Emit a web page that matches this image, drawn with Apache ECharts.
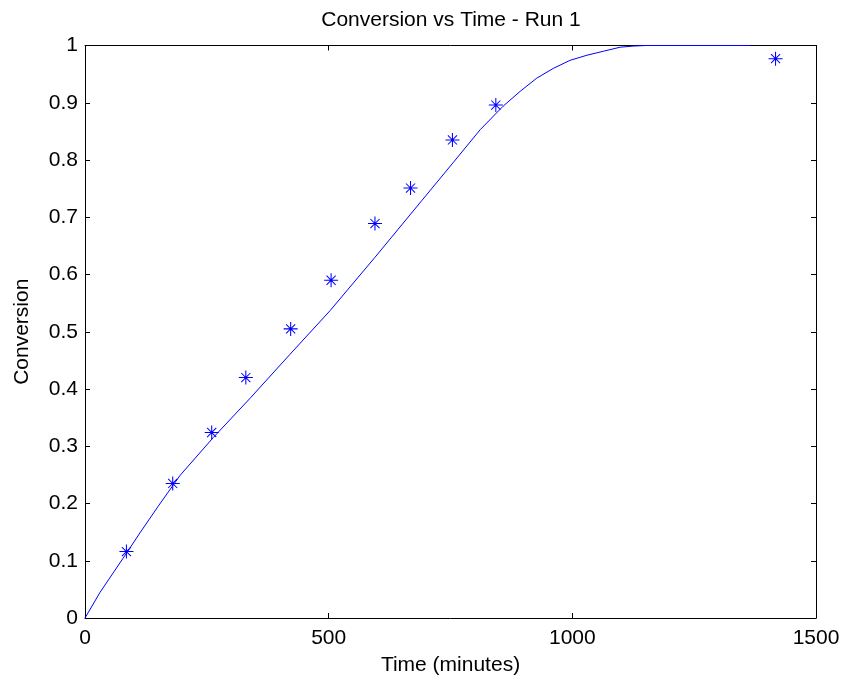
<!DOCTYPE html>
<html>
<head>
<meta charset="utf-8">
<script src="https://cdn.jsdelivr.net/npm/echarts@6/dist/echarts.min.js"></script>
<style>
html,body{margin:0;padding:0;background:#fff;}
#chart{width:844px;height:681px;}
</style>
</head>
<body>
<div id="chart"></div>
<script>
var titleText = "Conversion vs Time - Run 1";
var xLabel = "Time (minutes)";
var yLabel = "Conversion";

// Measured data points (time in minutes, conversion)
var measTime = [85, 180, 260, 330, 422, 505, 595, 668, 754, 843, 1417];
var measConv = [0.116, 0.235, 0.324, 0.42, 0.505, 0.59, 0.689, 0.751, 0.835, 0.896, 0.977];

// Model curve
var modelTime = [0, 31, 85, 113, 150, 195, 263, 340, 420, 503, 595, 691, 756, 811, 858, 893, 927, 961, 995, 1030, 1064, 1098, 1125, 1150, 1365];
var modelConv = [0, 0.045, 0.113, 0.149, 0.195, 0.249, 0.315, 0.385, 0.46, 0.537, 0.63, 0.729, 0.796, 0.853, 0.894, 0.92, 0.943, 0.96, 0.974, 0.983, 0.99, 0.997, 0.999, 1, 1];

var xTicks = [0, 500, 1000, 1500];
var yTicks = [0, 0.1, 0.2, 0.3, 0.4, 0.5, 0.6, 0.7, 0.8, 0.9, 1];

var FONT = "Liberation Sans, Arial, sans-serif";
var FS = 21;

var star = 'path://M0 7.4H16V8.6H0Z M7.4 0H8.6V16H7.4Z M2.4 3.2L3.2 2.4L13.6 12.8L12.8 13.6Z M12.8 2.4L13.6 3.2L3.2 13.6L2.4 12.8Z';

var chart = echarts.init(document.getElementById('chart'), null, {renderer: 'canvas'});

function pairs(a, b) { return a.map(function (v, i) { return [v, b[i]]; }); }

var axisCommon = {
  axisLine: {show: true, onZero: false, lineStyle: {color: '#000', width: 1}},
  axisTick: {show: true, inside: true, length: 5, lineStyle: {color: '#000'}},
  splitLine: {show: false}
};

chart.setOption({
  animation: false,
  backgroundColor: '#fff',
  title: {
    text: titleText,
    left: 446,
    top: 5,
    textAlign: 'center',
    textStyle: {fontFamily: FONT, fontSize: FS, fontWeight: 'normal', color: '#000'}
  },
  grid: {left: 85, right: 28, top: 45.5, bottom: 59, containLabel: false},
  xAxis: [
    Object.assign({
      type: 'value', min: xTicks[0], max: xTicks[xTicks.length - 1], interval: 500, position: 'bottom',
      name: xLabel, nameLocation: 'middle', nameGap: 37,
      nameTextStyle: {fontFamily: FONT, fontSize: FS, color: '#000'},
      axisLabel: {fontFamily: FONT, fontSize: FS, color: '#000', margin: 10,
        formatter: function (v) { return String(v); }}
    }, axisCommon),
    Object.assign({
      type: 'value', min: xTicks[0], max: xTicks[xTicks.length - 1], interval: 500, position: 'top',
      axisLabel: {show: false}
    }, axisCommon)
  ],
  yAxis: [
    Object.assign({
      type: 'value', min: yTicks[0], max: yTicks[yTicks.length - 1], interval: 0.1, position: 'left',
      name: yLabel, nameLocation: 'middle', nameGap: 52,
      nameTextStyle: {fontFamily: FONT, fontSize: FS, color: '#000'},
      axisLabel: {fontFamily: FONT, fontSize: FS, color: '#000', margin: 7,
        formatter: function (v) { return String(Math.round(v * 10) / 10); }}
    }, axisCommon),
    Object.assign({
      type: 'value', min: yTicks[0], max: yTicks[yTicks.length - 1], interval: 0.1, position: 'right',
      axisLabel: {show: false}
    }, axisCommon)
  ],
  series: [
    {
      type: 'line', xAxisIndex: 0, yAxisIndex: 0,
      data: pairs(modelTime, modelConv),
      showSymbol: false, symbol: 'none', smooth: false,
      lineStyle: {color: '#0000ff', width: 1},
      z: 2
    },
    {
      type: 'scatter', xAxisIndex: 0, yAxisIndex: 0,
      data: pairs(measTime, measConv),
      symbol: star, symbolSize: 14,
      itemStyle: {color: '#0000ff', opacity: 1},
      z: 3
    }
  ]
});
</script>
</body>
</html>
